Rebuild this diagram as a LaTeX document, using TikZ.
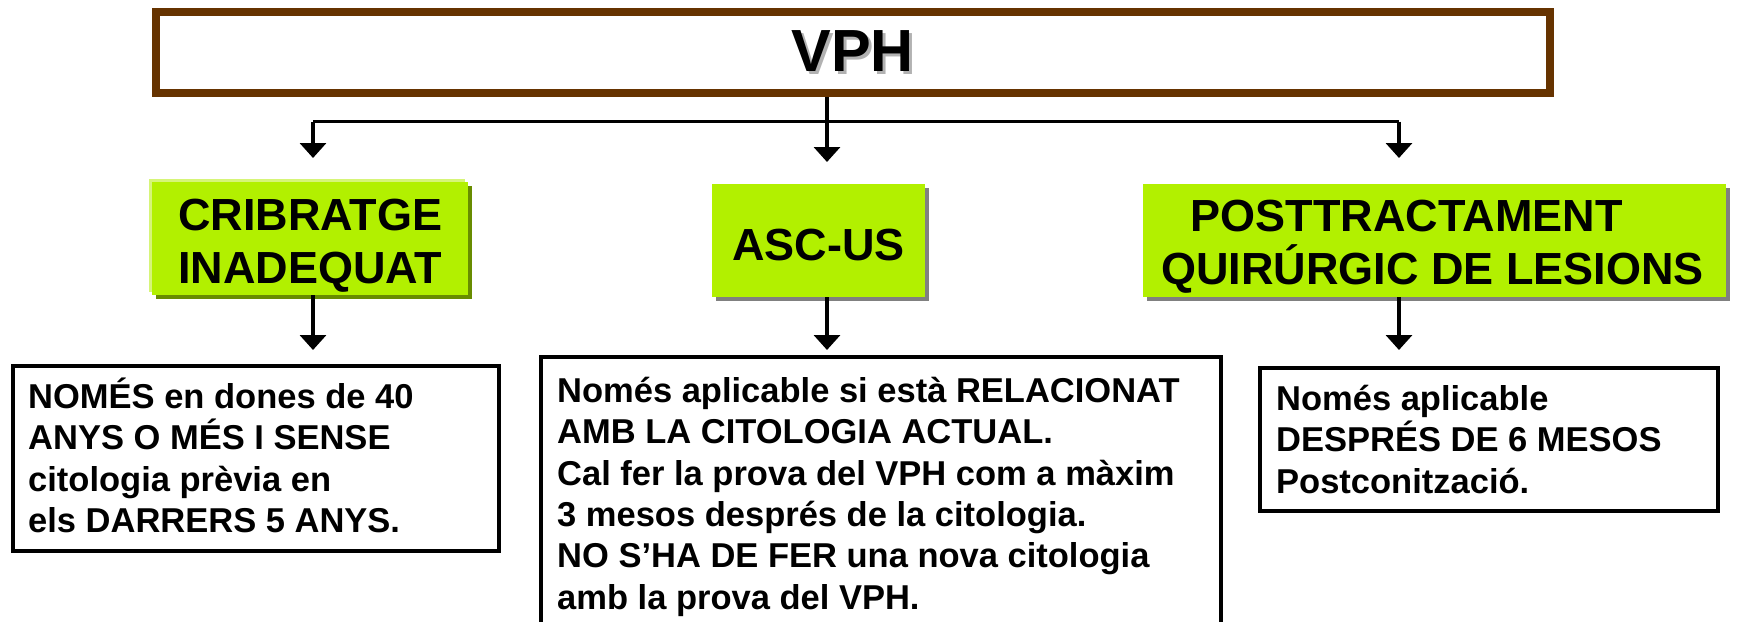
\documentclass[tikz,border=0pt]{standalone}
\usepackage{fontspec}
\setmainfont{Liberation Sans}
\usetikzlibrary{arrows.meta,shadows,calc}
\definecolor{vbrown}{RGB}{102,51,0}
\definecolor{vgreen}{RGB}{178,240,0}
\definecolor{volive}{RGB}{104,140,0}
\definecolor{vlight}{RGB}{214,245,120}
\definecolor{vshade}{RGB}{128,128,128}
\begin{document}
\begin{tikzpicture}[x=1pt,y=-1pt,
  conn/.style={line width=3.5pt},
  arr/.style={line width=3.5pt,-{Triangle[width=26pt,length=15pt]}},
  topbox/.style={draw=vbrown,line width=8pt,inner sep=0pt,anchor=north west,
     font=\fontsize{59.5pt}{70pt}\selectfont\bfseries},
  greenbox/.style={fill=vgreen,inner sep=0pt,anchor=north west,
     drop shadow={shadow xshift=4pt,shadow yshift=-4pt,fill=vshade,opacity=1}},
  greenboxa/.style={fill=vgreen,inner sep=0pt,anchor=north west,
     drop shadow={shadow xshift=-3pt,shadow yshift=3pt,fill=vlight,opacity=1},
     drop shadow={shadow xshift=4pt,shadow yshift=-4pt,fill=volive,opacity=1}},
  greentext/.style={inner sep=0pt,align=center,
     font=\fontsize{45pt}{53.5pt}\selectfont\bfseries},
  whitebox/.style={draw,line width=3.5pt,fill=white,inner sep=0pt,anchor=north west},
  bodytext/.style={inner sep=0pt,anchor=north west,align=left,
     font=\fontsize{34.5pt}{41.4pt}\selectfont\bfseries}
]
\useasboundingbox (0,0) rectangle (1737,621);
\fill[white] (0,0) rectangle (1737,621);

% top box
\node[topbox,minimum width=1394pt,minimum height=81pt] (vph) at (151.5,8)
  {\makebox[0pt][l]{\hspace{3pt}\raisebox{-3pt}{\color{gray!60}VPH}}VPH};

% column coordinates
\coordinate (col1) at (313,121.5);
\coordinate (col2) at (827,121.5);
\coordinate (col3) at (1399,121.5);

% green boxes
\node[greenboxa,minimum width=316pt,minimum height=113pt] (cri) at (152,182) {};
\node[greentext] (crit) at ($(cri.center)+(0,7)$) {CRIBRATGE\\INADEQUAT};
\node[greenbox,minimum width=213pt,minimum height=113pt] (asc) at (712,184) {};
\node[greentext] (asct) at ($(asc.center)+(0,4.5)$) {ASC-US};
\node[greenbox,minimum width=583pt,minimum height=113pt] (post) at (1143,184) {};
\node[greentext] (postt) at ($(post.center)+(-2,6)$)
  {POSTTRACTAMENT\hspace*{52pt}\\QUIRÚRGIC DE LESIONS};

% white boxes
\node[whitebox,minimum width=486pt,minimum height=185pt] (b1) at (11,364) {};
\node[whitebox,minimum width=680pt,minimum height=305pt] (b2) at (539,355) {};
\node[whitebox,minimum width=458pt,minimum height=143pt] (b3) at (1258,366) {};

\node[bodytext] (t1) at (28,374)
  {\rule{0pt}{34pt}NOMÉS en dones de 40\\ANYS O MÉS I SENSE\\citologia prèvia en\\els DARRERS 5 ANYS.};
\node[bodytext] (t2) at (557,368)
  {\rule{0pt}{34pt}Només aplicable si està RELACIONAT\\AMB LA CITOLOGIA ACTUAL.\\Cal fer la prova del VPH com a màxim\\3 mesos després de la citologia.\\NO S’HA DE FER una nova citologia\\amb la prova del VPH.};
\node[bodytext] (t3) at (1276,376)
  {\rule{0pt}{34pt}Només aplicable\\DESPRÉS DE 6 MESOS\\Postconització.};

% connectors
\draw[conn] (col1) -- (col3);
\draw[arr,shorten >=22pt] (vph.south -| col2) -- (asc.north -| col2);
\draw[arr,shorten >=24pt] (col1) -- (cri.north -| col1);
\draw[arr,shorten >=26pt] (col3) -- (post.north -| col3);
\draw[arr,shorten >=14pt] (cri.south -| col1) -- (b1.north -| col1);
\draw[arr,shorten >=5pt] (asc.south -| col2) -- (b2.north -| col2);
\draw[arr,shorten >=16pt] (post.south -| col3) -- (b3.north -| col3);
\end{tikzpicture}
\end{document}
